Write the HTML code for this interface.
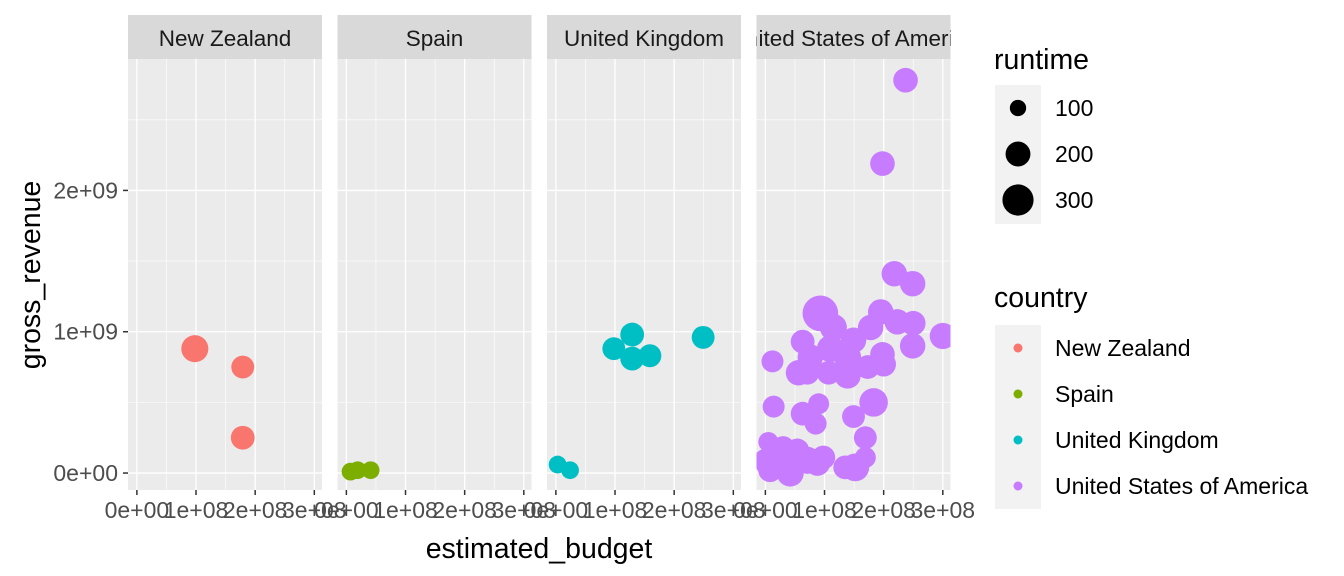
<!DOCTYPE html>
<html><head><meta charset="utf-8"><style>
body{margin:0;background:#fff;}
svg{display:block;font-family:"Liberation Sans",Arial,sans-serif;}
</style></head><body>
<svg id="chart" width="1344" height="576"></svg>
<script>
const countries = ["New Zealand","Spain","United Kingdom","United States of America"];
const colors = ["#F8766D","#7CAE00","#00BFC4","#C77CFF"];
const xTicks = [0,1e8,2e8,3e8];
const xTickLabels = ["0e+00","1e+08","2e+08","3e+08"];
const yTicks = [0,1e9,2e9];
const yTickLabels = ["0e+00","1e+09","2e+09"];
const sizeBreaks = [100,200,300];
const ptCountry = [0,0,0, 1,1,1, 2,2,2,2,2,2,2,
 3,3,3,3,3,3,3,3,3,3,3,3,3,3,3,3,3,3,3,3,3,3,3,3,3,3,3,3,3,3,3,3,3,3,3,3,3,3,3,3,3,3,3,3,3,3];
const budget = [0.98e8,1.79e8,1.79e8, 0.07e8,0.19e8,0.41e8, 0.03e8,0.24e8,0.98e8,1.29e8,1.29e8,1.59e8,2.49e8,
 2.18e8,2.49e8,2.37e8,1.98e8,0.93e8,1.95e8,2.23e8,2.50e8,3.00e8,2.49e8,1.98e8,2.00e8,1.78e8,1.49e8,1.15e8,0.63e8,0.76e8,1.10e8,1.39e8,0.12e8,0.56e8,1.07e8,1.39e8,1.73e8,0.71e8,0.14e8,0.63e8,0.90e8,0.85e8,1.49e8,1.83e8,1.69e8,1.69e8,1.52e8,1.35e8,0.05e8,0.0,0.08e8,0.30e8,0.42e8,0.54e8,0.71e8,0.88e8,0.98e8,0.20e8,0.03e8,0.59e8];
const gross = [0.88e9,0.75e9,0.25e9, 0.01e9,0.02e9,0.02e9, 0.06e9,0.02e9,0.88e9,0.98e9,0.81e9,0.83e9,0.96e9,
 1.41e9,1.34e9,2.78e9,2.19e9,1.13e9,1.14e9,1.07e9,1.06e9,0.97e9,0.90e9,0.84e9,0.77e9,1.03e9,0.94e9,1.03e9,0.93e9,0.82e9,0.88e9,0.82e9,0.79e9,0.71e9,0.71e9,0.69e9,0.75e9,0.71e9,0.47e9,0.42e9,0.49e9,0.35e9,0.40e9,0.50e9,0.25e9,0.11e9,0.04e9,0.04e9,0.22e9,0.09e9,0.02e9,0.18e9,0.00e9,0.16e9,0.09e9,0.07e9,0.11e9,0.11e9,0.07e9,0.04e9];
const runtime = [200,150,160, 100,100,100, 100,100,150,160,160,150,150,
 180,180,170,170,330,180,180,170,190,180,170,170,180,180,200,160,180,200,200,140,180,160,190,160,160,140,160,130,140,150,220,150,130,210,160,120,150,160,150,200,160,200,180,160,180,160,200];

const svg = document.getElementById('chart');
const NS = 'http://www.w3.org/2000/svg';
function mk(tag, attrs, parent){const e=document.createElementNS(NS,tag);for(const k in attrs)e.setAttribute(k,attrs[k]);(parent||svg).appendChild(e);return e;}
const panelLeft = [128,337.5,547,756.5], panelW = 194, plotTop = 59, plotBottom = 490;
const xMin = -0.15e8, xMax = 3.13e8, yMin = -0.12e9, yMax = 2.93e9;
function xs(p,v){return panelLeft[p] + (v - xMin)/(xMax - xMin)*panelW;}
function ys(v){return plotBottom - (v - yMin)/(yMax - yMin)*(plotBottom - plotTop);}
function rs(rt){return Math.sqrt(Math.max(4, 1.04*rt - 25));}

countries.forEach((c,p)=>{
  const g = mk('g',{});
  
  
  const L = panelLeft[p];
  const cp = mk('clipPath',{id:'clip'+p},g);
  mk('rect',{x:L,y:15,width:panelW,height:plotBottom-15},cp);
  const bg = mk('rect',{x:L,y:plotTop,width:panelW,height:plotBottom-plotTop,fill:'#EBEBEB'},g);
  
  
  [0.5e9,1.5e9,2.5e9].forEach(v=>mk('line',{x1:L,x2:L+panelW,y1:ys(v),y2:ys(v),stroke:'#fff','stroke-width':0.6},g));
  [0.5e8,1.5e8,2.5e8].forEach(v=>mk('line',{x1:xs(p,v),x2:xs(p,v),y1:plotTop,y2:plotBottom,stroke:'#fff','stroke-width':0.6},g));
  yTicks.forEach(v=>mk('line',{x1:L,x2:L+panelW,y1:ys(v),y2:ys(v),stroke:'#fff','stroke-width':1.3},g));
  xTicks.forEach((v,i)=>{
    mk('line',{x1:xs(p,v),x2:xs(p,v),y1:plotTop,y2:plotBottom,stroke:'#fff','stroke-width':1.3},g);
    mk('line',{x1:xs(p,v),x2:xs(p,v),y1:plotBottom,y2:plotBottom+5,stroke:'#333','stroke-width':1.5},g);
    const t = mk('text',{x:xs(p,v),y:plotBottom+28,'text-anchor':'middle','font-size':23,fill:'#4D4D4D'},g);
    t.textContent = xTickLabels[i];
    
    
  });
  const st = mk('rect',{x:L,y:15,width:panelW,height:44,fill:'#D9D9D9'},g);
  
  
  const stt = mk('text',{x:L+panelW/2,y:46,'text-anchor':'middle','font-size':22.5,fill:'#1A1A1A','clip-path':'url(#clip'+p+')'},g);
  stt.textContent = c;
  
  
  const pg = mk('g',{'clip-path':'url(#clip'+p+')'},g);
  for(let i=0;i<budget.length;i++){
    if(ptCountry[i]!==p) continue;
    const pt = mk('circle',{cx:xs(p,budget[i]),cy:ys(gross[i]),r:rs(runtime[i]),fill:colors[p]},pg);
    
    
  }
});
yTicks.forEach((v,i)=>{
  mk('line',{x1:123,x2:128,y1:ys(v),y2:ys(v),stroke:'#333','stroke-width':1.5});
  const t = mk('text',{x:118,y:ys(v)+8,'text-anchor':'end','font-size':23,fill:'#4D4D4D'});
  t.textContent = yTickLabels[i];
  
  
});
const yt = mk('text',{x:0,y:0,transform:'translate(40,275) rotate(-90)','text-anchor':'middle','font-size':28.5,fill:'#000'});
yt.textContent='gross_revenue';


const xt = mk('text',{x:539,y:558,'text-anchor':'middle','font-size':28.5,fill:'#000'});
xt.textContent='estimated_budget';



const lg1 = mk('g',{});


const l1t = mk('text',{x:994,y:69,'font-size':28.5,fill:'#000'},lg1); l1t.textContent='runtime';
mk('rect',{x:995,y:85,width:46,height:139,fill:'#F2F2F2'},lg1);
sizeBreaks.forEach((s,i)=>{
  const cy = 108 + i*46;
  const d = mk('circle',{cx:1018,cy:cy,r:rs(s)*0.92,fill:'#000'},lg1);
  
  
  const t = mk('text',{x:1055,y:cy+8,'font-size':23,fill:'#000'},lg1); t.textContent=s;
});
const lg2 = mk('g',{});


const l2t = mk('text',{x:994,y:307,'font-size':28.5,fill:'#000'},lg2); l2t.textContent='country';
mk('rect',{x:995,y:325,width:46,height:184,fill:'#F2F2F2'},lg2);
countries.forEach((c,i)=>{
  const cy = 348 + i*46;
  const d = mk('circle',{cx:1018,cy:cy,r:4.5,fill:colors[i]},lg2);
  
  
  const t = mk('text',{x:1055,y:cy+8,'font-size':23,fill:'#000'},lg2); t.textContent=c;
});
</script>
</body></html>
